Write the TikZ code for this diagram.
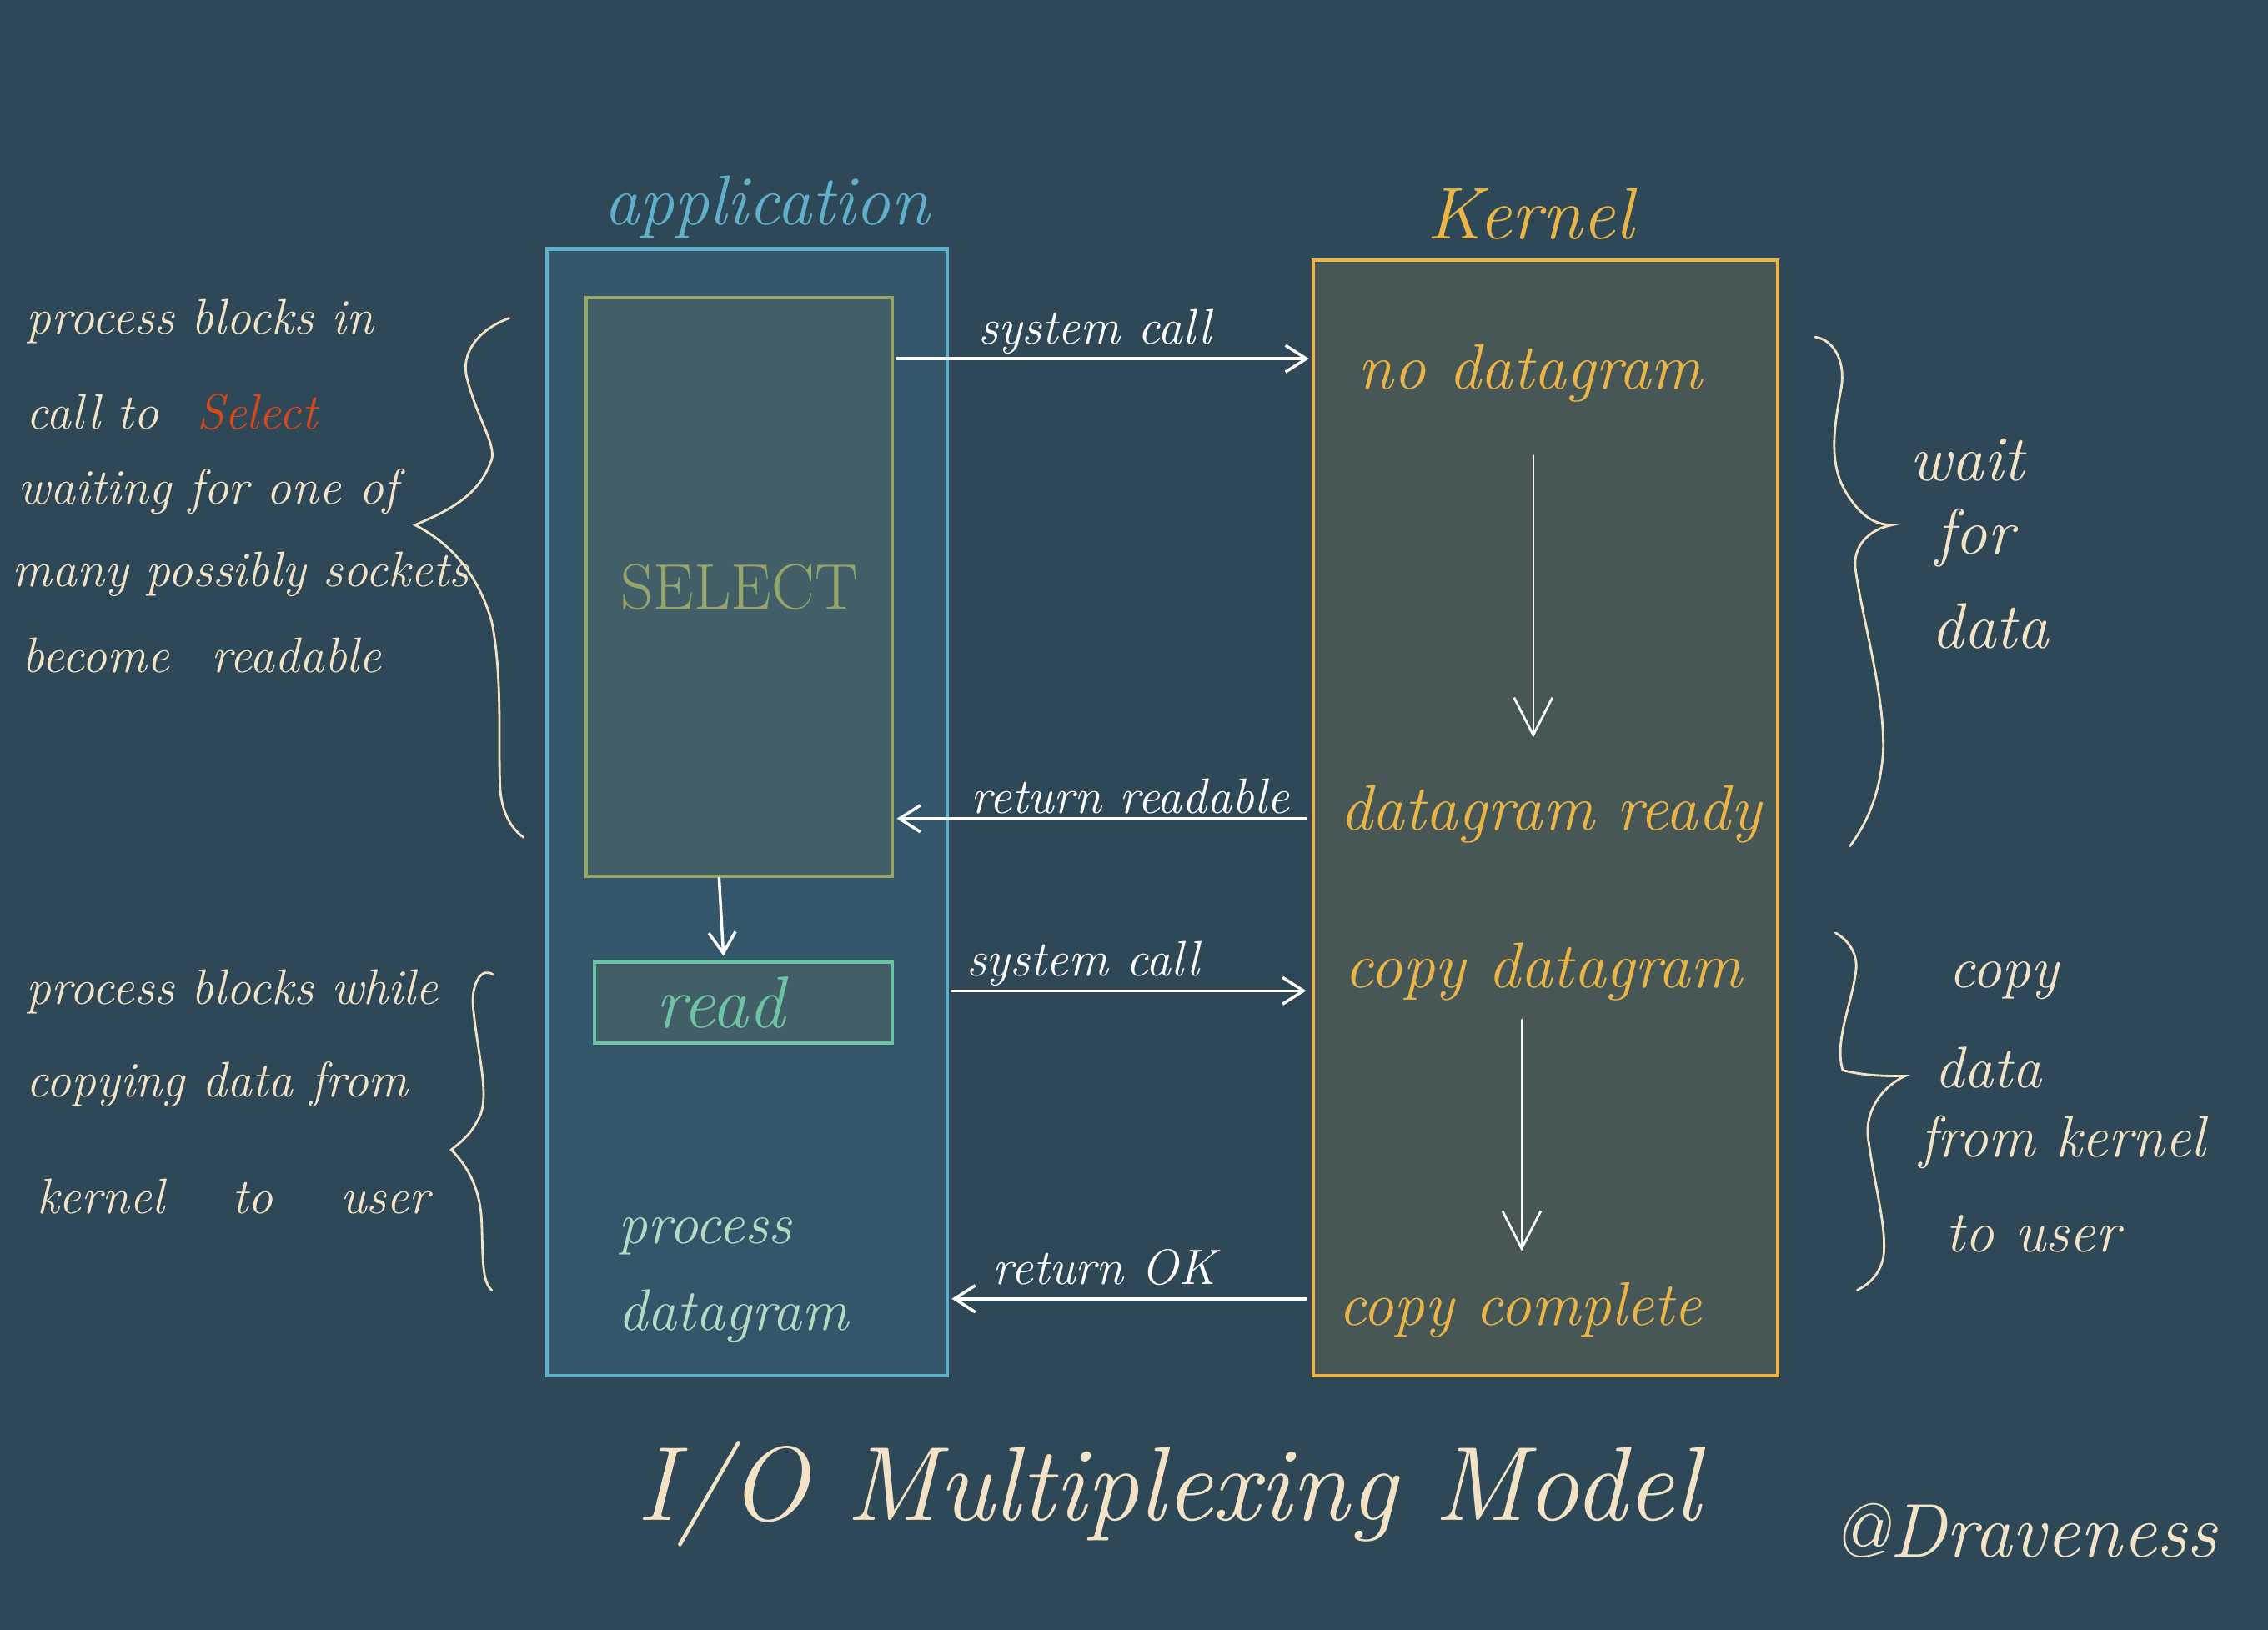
\documentclass[tikz,border=0pt]{standalone}
\usepackage{fontspec}
\usetikzlibrary{arrows.meta}
\definecolor{bg}{HTML}{2F4858}
\definecolor{appfill}{HTML}{34566A}
\definecolor{selfill}{HTML}{425F68}
\definecolor{kerfill}{HTML}{475756}
\definecolor{blueline}{HTML}{5FB0CB}
\definecolor{oliveline}{HTML}{96A56A}
\definecolor{greenline}{HTML}{6CC4A4}
\definecolor{yellowline}{HTML}{EBB446}
\definecolor{cream}{HTML}{F2E3C6}
\definecolor{redsel}{HTML}{D9471B}
\definecolor{procgreen}{HTML}{B5D9C3}
\tikzset{
  fs/.style={font=\fontsize{#1}{#1}\selectfont\itshape},
  note/.style={fs=17, text=cream, inner sep=0pt, anchor=west},
  ktxt/.style={fs=22, text=yellowline, inner sep=0pt},
  lbl/.style={fs=17, text=white, inner sep=1pt},
  arr/.style={draw=white, line width=1pt, line cap=round,
    -{Straight Barb[length=2.5mm,width=3.2mm,line width=1pt]}},
  varr/.style={draw=white, line width=0.7pt, line cap=round,
    -{Straight Barb[length=4.5mm,width=4.6mm,line width=0.8pt]}},
  brace/.style={draw=cream, line width=0.8pt, line cap=round},
  boxline/.style={line width=1.2pt, inner sep=0pt}
}
\begin{document}
\begin{tikzpicture}[x=0.017347cm, y=-0.017347cm]
\useasboundingbox (0,0) rectangle (1568,1127);
\fill[bg] (0,0) rectangle (1568,1127);

% main boxes
\node[boxline, draw=blueline, fill=appfill, minimum width=4.805cm, minimum height=13.513cm] (app) at (516.5,561.5) {};
\node[boxline, draw=yellowline, fill=kerfill, minimum width=5.568cm, minimum height=13.375cm] (ker) at (1068.5,565.5) {};
\node[boxline, draw=oliveline, fill=selfill, minimum width=3.678cm, minimum height=6.939cm,
      font=\fontsize{22}{22}\selectfont, text=oliveline] (sel) at (511,406) {SELECT};
\node[boxline, draw=greenline, fill=selfill, minimum width=3.573cm, minimum height=0.971cm,
      fs=25, text=greenline] (read) at (514,693) {\hspace*{-0.55cm}read};

% titles of boxes
\node[fs=24, text=blueline, inner sep=0pt] (apptitle) at (530,143) {application};
\node[fs=25, text=yellowline, inner sep=0pt] (kertitle) at (1058,148) {Kernel};

% kernel texts
\node[ktxt] (nodg) at (1058,258) {no datagram};
\node[ktxt] (dgready) at (1072,563) {datagram ready};
\node[ktxt] (copydg) at (1067,672) {copy datagram};
\node[ktxt, fs=21] (copyc) at (1051,906) {copy complete};

% app texts
\node[fs=20, text=procgreen, inner sep=0pt, anchor=west] (proc1) at (427,855) {process};
\node[fs=20, text=procgreen, inner sep=0pt, anchor=west] (proc2) at (427,910) {datagram};

% connectors
\coordinate (sc1a) at (620,248); \coordinate (sc1b) at (905,248);
\coordinate (rr1a) at (903,566); \coordinate (rr1b) at (620,566);
\coordinate (sc2a) at (658,685); \coordinate (sc2b) at (903,685);
\coordinate (ok1a) at (903,898); \coordinate (ok1b) at (658,898);
\coordinate (k1a) at (1060,315); \coordinate (k1b) at (1060,510);
\coordinate (k2a) at (1052,705); \coordinate (k2b) at (1052,865);

\draw[arr] (sc1a) -- (sc1b) node[lbl, pos=0.48, above] (l1) {system call};
\draw[arr] (rr1a) -- (rr1b) node[lbl, pos=0.43, above] (l2) {return readable};
\draw[arr] (sc2a) -- (sc2b) node[lbl, pos=0.37, above] (l3) {system call};
\draw[arr] (ok1a) -- (ok1b) node[lbl, pos=0.57, above=3pt] (l4) {return OK};
\draw[varr] (k1a) -- (k1b);
\draw[varr] (k2a) -- (k2b);
\draw[arr] ([xshift=-0.24cm]sel.south) -- ([xshift=-0.24cm, yshift=0.05cm]read.north);

% left notes
\node[note] (n1) at (18,222) {process blocks in};
\node[note] (n2) at (18,285) {call to\hspace{0.25cm} \textcolor{redsel}{Select}};
\node[note] (n3) at (12,340) {waiting for one of};
\node[note] (n4) at (8,397) {many possibly sockets};
\node[note] (n5) at (15,453) {become\hspace{0.3cm} readable};

\node[note] (m1) at (18,686) {process blocks while};
\node[note] (m2) at (18,750) {copying data from};
\node[note] (m3) at (25,827) {kernel\hspace{0.6cm} to\hspace{0.6cm} user};

% right notes
\node[note, fs=22] (r1) at (1320,318) {wait};
\node[note, fs=22] (r2) at (1338,372) {for};
\node[note, fs=22] (r3) at (1335,433) {data};
\node[note, fs=20] (s1) at (1347,678) {copy};
\node[note, fs=20] (s2) at (1337,738) {data};
\node[note, fs=20] (s3) at (1327,790) {from kernel};
\node[note, fs=20] (s4) at (1345,853) {to user};

% braces
\draw[brace] (352,220) .. controls (330,228) and (318,245) .. (323,262)
  .. controls (330,290) and (345,310) .. (339,320)
  .. controls (330,345) and (305,355) .. (287,363)
  .. controls (310,375) and (330,395) .. (340,430)
  .. controls (348,470) and (344,520) .. (346,548)
  .. controls (348,565) and (355,574) .. (362,579);
\draw[brace] (341,674) .. controls (333,668) and (326,680) .. (327,695)
  .. controls (330,730) and (340,760) .. (330,775)
  .. controls (325,785) and (318,790) .. (312,795)
  .. controls (322,805) and (332,820) .. (333,845)
  .. controls (334,870) and (333,886) .. (340,892);
\draw[brace] (1255,233) .. controls (1268,235) and (1276,250) .. (1273,268)
  .. controls (1268,295) and (1264,320) .. (1276,340)
  .. controls (1285,355) and (1295,363) .. (1308,363)
  .. controls (1292,366) and (1280,378) .. (1283,395)
  .. controls (1288,430) and (1303,480) .. (1302,519)
  .. controls (1300,550) and (1290,570) .. (1279,585);
\draw[brace] (1269,645) .. controls (1278,650) and (1285,660) .. (1283,672)
  .. controls (1280,695) and (1268,720) .. (1274,740)
  .. controls (1290,744) and (1305,744) .. (1317,744)
  .. controls (1300,752) and (1288,770) .. (1292,790)
  .. controls (1296,820) and (1305,850) .. (1302,870)
  .. controls (1299,882) and (1292,888) .. (1284,892);

% title and signature
\node[fs=36, text=cream, inner sep=0pt] (title) at (808,1033) {I/O Multiplexing Model};
\node[fs=26, text=cream, inner sep=0pt] (sig) at (1400,1058) {@Draveness};
\end{tikzpicture}
\end{document}
